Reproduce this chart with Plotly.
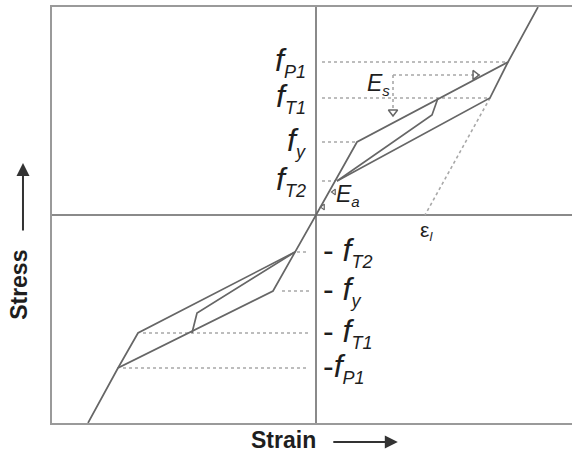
import plotly.graph_objects as go

# ---- schematic stress levels (arbitrary units) ----
level_names_pos = ["P1", "T1", "y", "T2"]
level_values_pos = [153, 117, 73, 34]
level_names_neg = ["T2", "y", "T1", "P1"]
level_values_neg = [-37, -76, -118, -153]

# ---- tension branch ----
ten_load_strain = [0, 41, 192, 222]
ten_load_stress = [0, 73, 153, 208]
ten_unload_strain = [192, 174, 21]
ten_unload_stress = [153, 117, 34]
ten_inner_strain = [122, 116, 21]
ten_inner_stress = [117, 100, 34]

# ---- compression branch ----
com_load_strain = [0, -43, -198, -228]
com_load_stress = [0, -76, -153, -208]
com_unload_strain = [-198, -178, -21]
com_unload_stress = [-153, -118, -37]
com_inner_strain = [-124, -119, -21]
com_inner_stress = [-118, -98, -37]

# guide line extents (strain where each dotted level line ends)
pos_guide_end = [192, 174, 41, 19]
neg_guide_start = [-19, -34, -173, -193]
residual_strain = 109          # epsilon_l
es_guide_strain = [77, 167]
es_guide_stress = [140, 106]

CURVE = "#666666"
DOT = "#a8a8a8"
FRAME = "#9a9a9a"
TXT = "#1e1e1e"

fig = go.Figure()

def curve(x, y):
    fig.add_trace(go.Scatter(x=x, y=y, mode="lines",
                             line=dict(color=CURVE, width=1.7),
                             hoverinfo="skip", showlegend=False))

def dotted(x, y):
    fig.add_trace(go.Scatter(x=x, y=y, mode="lines",
                             line=dict(color=DOT, width=1.6, dash="dot"),
                             hoverinfo="skip", showlegend=False))

# dotted guides (drawn first)
for v, xe in zip(level_values_pos, pos_guide_end):
    dotted([6, xe], [v, v])
for v, xs in zip(level_values_neg, neg_guide_start):
    dotted([xs, -7], [v, v])
dotted([es_guide_strain[0], es_guide_strain[1]], [es_guide_stress[0], es_guide_stress[0]])
dotted([es_guide_strain[0], es_guide_strain[0]], [es_guide_stress[0], es_guide_stress[1]])
dotted([ten_unload_strain[1], residual_strain], [ten_unload_stress[1], 0])

# curves
curve(ten_load_strain, ten_load_stress)
curve(ten_unload_strain, ten_unload_stress)
curve(ten_inner_strain, ten_inner_stress)
curve(com_load_strain, com_load_stress)
curve(com_unload_strain, com_unload_stress)
curve(com_inner_strain, com_inner_stress)

# small slope markers
fig.add_trace(go.Scatter(x=[es_guide_strain[0], 159], y=[103, 140], mode="markers",
                         marker=dict(symbol=["triangle-down-open", "triangle-right-open"],
                                     size=8, color=CURVE, line=dict(width=1.5, color=CURVE)),
                         hoverinfo="skip", showlegend=False))
fig.add_trace(go.Scatter(x=[7, 18], y=[8, 23], mode="markers",
                         marker=dict(symbol="triangle-left-open", size=5, color=CURVE,
                                     line=dict(width=1.2, color=CURVE)),
                         hoverinfo="skip", showlegend=False))

FONT = "Liberation Sans"
ann = []
SUB = "<span style='font-size:18px'>"
for name, v in zip(level_names_pos, level_values_pos):
    ann.append(dict(x=-8, y=v, xref="x", yref="y", xanchor="right", yanchor="middle",
                    text=f"<i>f</i><sub>{SUB}<i>{name}</i></span></sub>", showarrow=False,
                    font=dict(family=FONT, size=32, color=TXT)))
for i, (name, v) in enumerate(zip(level_names_neg, level_values_neg)):
    pre = "-" if name == "P1" else "- "
    ann.append(dict(x=5, y=v, xref="x", yref="y", xanchor="left", yanchor="middle",
                    text=f"{pre}<i>f</i><sub>{SUB}<i>{name}</i></span></sub>", showarrow=False,
                    font=dict(family=FONT, size=32, color=TXT)))
ann.append(dict(x=62, y=131, xref="x", yref="y", xanchor="center", yanchor="middle",
                text="<i>E</i><sub><span style='font-size:15px'><i>s</i></span></sub>",
                showarrow=False, font=dict(family=FONT, size=23, color=TXT)))
ann.append(dict(x=32, y=20, xref="x", yref="y", xanchor="center", yanchor="middle",
                text="<i>E</i><sub><span style='font-size:15px'><i>a</i></span></sub>",
                showarrow=False, font=dict(family=FONT, size=23, color=TXT)))
ann.append(dict(x=110, y=-16, xref="x", yref="y", xanchor="center", yanchor="middle",
                text="ε<sub><span style='font-size:13px'><i>l</i></span></sub>",
                showarrow=False, font=dict(family=FONT, size=21, color=TXT)))

# axis titles with arrows
ann.append(dict(x=-0.0635, y=0.332, xref="paper", yref="paper", text="<b>Stress</b>",
                xanchor="center", yanchor="middle",
                textangle=-90, showarrow=False, font=dict(family=FONT, size=23, color=TXT)))
ann.append(dict(x=0.445, y=-0.041, xref="paper", yref="paper", text="<b>Strain</b>",
                xanchor="center", yanchor="middle",
                showarrow=False, font=dict(family=FONT, size=23, color=TXT)))
ann.append(dict(x=-0.0558, y=0.625, xref="paper", yref="paper", text="",
                showarrow=True, ax=0, ay=69, arrowhead=2, arrowsize=1.3,
                arrowwidth=2, arrowcolor="#333333"))
ann.append(dict(x=0.665, y=-0.0457, xref="paper", yref="paper", text="",
                showarrow=True, ax=-66, ay=0, arrowhead=2, arrowsize=1.3,
                arrowwidth=2, arrowcolor="#333333"))

fig.update_layout(
    width=572, height=452,
    margin=dict(l=52, r=0, t=7, b=29),
    paper_bgcolor="white", plot_bgcolor="white",
    annotations=ann,
    xaxis=dict(range=[-264, 256], showgrid=False, showticklabels=False, ticks="",
               showline=True, mirror=True, linecolor=FRAME, linewidth=2,
               zeroline=True, zerolinecolor="#8a8a8a", zerolinewidth=2),
    yaxis=dict(range=[-208, 208], showgrid=False, showticklabels=False, ticks="",
               showline=True, mirror=False, linecolor=FRAME, linewidth=2,
               zeroline=True, zerolinecolor="#8a8a8a", zerolinewidth=2),
)

fig.write_html("out.html", config={"displayModeBar": False},
               post_script="document.body.style.margin='0px';")
